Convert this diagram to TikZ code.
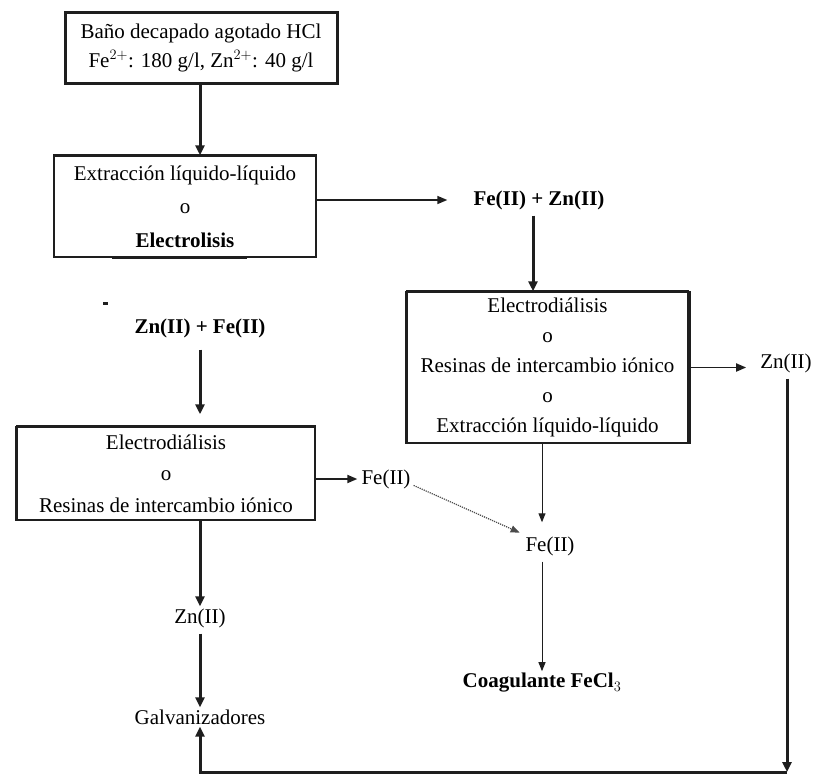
\documentclass[tikz,border=0pt]{standalone}
\usepackage{fontspec}
\setmainfont{Liberation Serif}
\usetikzlibrary{arrows.meta}
\definecolor{ink}{HTML}{1E1E1E}
\begin{document}
\begin{tikzpicture}[x=1pt,y=-1pt,
  every node/.style={font=\fontsize{21}{29}\selectfont, text=black, inner sep=2pt},
  procbox/.style={draw=ink, line width=1.5pt, align=center, inner sep=0pt},
  flow/.style={draw=ink, line width=3pt, -{Triangle[length=10pt,width=9pt]}},
  flowmid/.style={draw=ink, line width=1.8pt, -{Triangle[length=10pt,width=8pt]}},
  flowthin/.style={draw=ink, line width=1pt, -{Triangle[length=9pt,width=7pt]}},
  flowdot/.style={draw=ink!80, line width=1.2pt, densely dotted, -{Triangle[length=9pt,width=7pt]}},
  rail/.style={draw=ink, line width=3pt}
]
\path[use as bounding box, fill=white] (0,0) rectangle (814,774);

% process boxes
\node[procbox, line width=3pt, minimum width=272pt, minimum height=71pt] (bath) at (201,47.5)
  {Baño decapado agotado HCl\\Fe$^{2+}$: 180 g/l, Zn$^{2+}$: 40 g/l};
\node[procbox, minimum width=262pt, minimum height=101pt,
      font=\fontsize{21}{33.5}\selectfont] (ext) at (185,206.5)
  {Extracción líquido-líquido\\o\\\textbf{Electrolisis}};
\node[procbox, minimum width=281pt, minimum height=151pt,
      font=\fontsize{21}{30}\selectfont] (elec3) at (547.5,367.5)
  {Electrodiálisis\\o\\Resinas de intercambio iónico\\o\\Extracción líquido-líquido};
\node[procbox, minimum width=298pt, minimum height=93pt,
      font=\fontsize{21}{31.5}\selectfont] (elec4) at (166,473.5)
  {Electrodiálisis\\o\\Resinas de intercambio iónico};

% heavier edges on the boxes
\draw[ink, line width=2.6pt] (ext.north west) -- (ext.north east);
\draw[ink, line width=3pt] ([xshift=59pt]ext.south west) -- ([xshift=194pt]ext.south west);
\draw[ink, line width=3.5pt] (elec3.north west) -- (elec3.south west);
\draw[ink, line width=3.5pt] (elec3.north east) -- (elec3.south east);
\draw[ink, line width=2.6pt] (elec3.north west) -- (elec3.north east);
\draw[ink, line width=3.5pt] (elec4.north west) -- (elec4.south west);
\draw[ink, line width=2.6pt] (elec4.north west) -- (elec4.north east);

% stream labels
\node[font=\fontsize{21}{25}\selectfont\bfseries] (fezn) at (539,200) {Fe(II) + Zn(II)};
\node[font=\fontsize{21}{25}\selectfont\bfseries] (znfe) at (200,328) {Zn(II) + Fe(II)};
\node (zn3) at (786,363) {Zn(II)};
\node (fe4) at (386,479) {Fe(II)};
\node (fe3) at (550,546) {Fe(II)};
\node[font=\fontsize{21}{25}\selectfont\bfseries] (coag) at (542,683) {Coagulante FeCl$_3$};
\node (zn4) at (200,618) {Zn(II)};
\node (galv) at (200,717) {Galvanizadores};

% corners of the zinc return line
\coordinate (c1) at (787,772);
\coordinate (c2) at (200,772);

% small stray mark
\fill[ink] (103,302) rectangle (108,304.5);

% connectors
\draw[flow] (bath.south -| 200,0) -- (ext.north -| 200,0);
\draw[flowmid, line width=1.5pt, shorten >=24pt] (ext.east |- fezn.west) -- (fezn.west);
\draw[flow] ([xshift=-6pt,yshift=-4pt]fezn.south) -- ([xshift=-6pt]fezn.south |- elec3.north);
\draw[flowmid, shorten >=12pt] (elec3.east) -- (zn3.west |- elec3.east);
\draw[rail, -{Triangle[length=10pt,width=9pt]}] ([xshift=1pt,yshift=-4pt]zn3.south) -- (c1);
\draw[rail] (c1) -- ([xshift=-1.5pt]c2);
\draw[flow] (c2) -- (galv.south);
\draw[flow, shorten <=10pt, shorten >=12pt] (znfe.south) -- (znfe.south |- elec4.north);
\draw[flow] (elec4.south -| zn4) -- (zn4.north);
\draw[flow, shorten <=4pt] (zn4.south) -- (galv.north);
\draw[flowmid, shorten >=2pt] (elec4.east |- fe4.west) -- (fe4.west);
\draw[flowdot, shorten <=1pt, shorten >=4pt] ([yshift=-6pt]fe4.east) -- (fe3.north west);
\draw[flowthin, shorten >=12pt] ([xshift=-5.5pt]elec3.south) -- ([xshift=-5.5pt]elec3.south |- fe3.north);
\draw[flowthin, shorten <=4pt] ([xshift=-8pt]fe3.south) -- ([xshift=-8pt]fe3.south |- coag.north);
\end{tikzpicture}
\end{document}
